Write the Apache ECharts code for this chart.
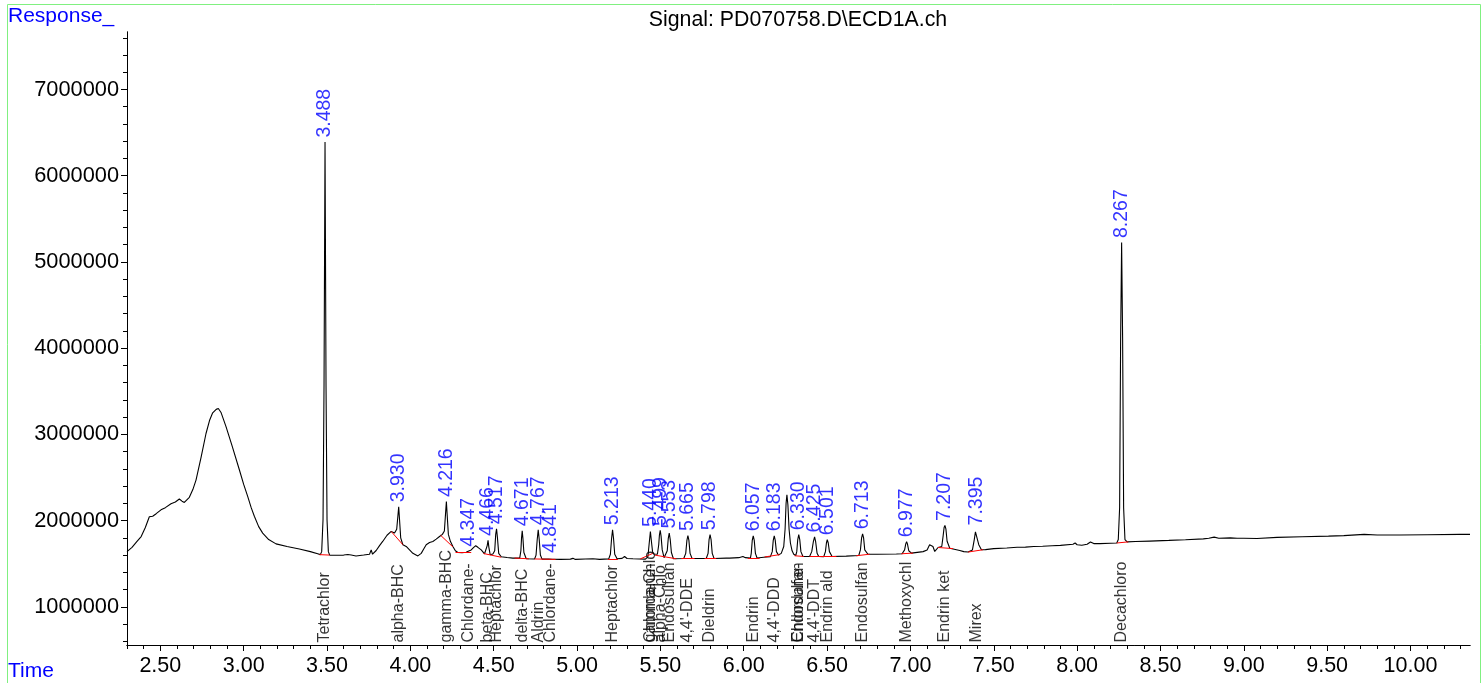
<!DOCTYPE html>
<html><head><meta charset="utf-8">
<script src="https://cdn.jsdelivr.net/npm/echarts@6/dist/echarts.min.js"></script>
<style>html,body{margin:0;padding:0;background:#fff}#c{width:1482px;height:683px}</style>
</head><body><div id="c"></div>
<script>
// ---------- DATA ----------
const signalTitle = 'Signal: PD070758.D\\ECD1A.ch';
const yAxisTitle = 'Response_';
const xAxisTitle = 'Time';

// chromatogram trace: [time (min), response]
const trace = [
[2.300,1640000],[2.330,1690000],[2.360,1760000],[2.385,1815000],[2.410,1920000],[2.434,2045000],[2.454,2050000],[2.475,2080000],[2.504,2125000],[2.530,2150000],[2.564,2195000],[2.590,2215000],[2.614,2250000],[2.630,2225000],[2.644,2210000],[2.674,2270000],[2.695,2360000],[2.714,2470000],[2.745,2740000],[2.774,3010000],[2.795,3160000],[2.814,3250000],[2.835,3290000],[2.848,3300000],[2.865,3250000],[2.894,3090000],[2.930,2870000],[2.974,2590000],[3.000,2420000],[3.024,2280000],[3.045,2150000],[3.064,2050000],[3.090,1930000],[3.114,1855000],[3.150,1780000],[3.194,1730000],[3.260,1700000],[3.334,1670000],[3.400,1640000],[3.444,1615000],
[3.460,1605000],[3.468,1640000],[3.476,2010000],[3.482,3560000],[3.488,6390000],[3.494,3560000],[3.500,2010000],[3.508,1640000],[3.516,1600000],
[3.560,1598000],[3.600,1600000],[3.625,1606000],[3.634,1618000],[3.645,1600000],[3.674,1590000],[3.720,1600000],[3.755,1610000],[3.765,1660000],[3.773,1610000],[3.795,1653000],[3.815,1710000],[3.834,1758000],[3.860,1830000],[3.885,1874000],[3.905,1855000],[3.918,1900000],[3.925,2050000],[3.930,2160000],[3.935,2010000],[3.942,1800000],[3.955,1720000],[3.975,1700000],[3.995,1660000],[4.015,1620000],[4.045,1590000],[4.065,1620000],[4.080,1670000],[4.095,1720000],[4.115,1745000],[4.135,1758000],[4.155,1785000],[4.175,1816000],[4.192,1840000],[4.204,1880000],[4.211,2080000],[4.216,2220000],[4.221,2060000],[4.228,1840000],[4.240,1760000],[4.255,1700000],[4.270,1650000],[4.285,1630000],[4.310,1628000],[4.335,1632000],[4.347,1645000],[4.365,1660000],[4.380,1690000],[4.392,1708000],[4.405,1690000],[4.425,1660000],[4.445,1615000],[4.456,1625000],[4.461,1710000],[4.466,1770000],[4.471,1690000],[4.479,1603000],[4.495,1612000],[4.506,1650000],[4.512,1840000],[4.517,1905000],[4.522,1810000],[4.530,1620000],[4.545,1580000],[4.580,1572000],[4.615,1565000],[4.656,1565000],[4.663,1650000],[4.667,1800000],[4.671,1882000],[4.675,1800000],[4.681,1630000],[4.695,1557000],[4.745,1555000],[4.754,1600000],[4.761,1780000],[4.767,1894000],[4.773,1780000],[4.780,1600000],[4.790,1553000],[4.830,1553000],[4.841,1572000],[4.852,1552000],[4.900,1550000],[4.960,1553000],[4.975,1562000],[4.990,1550000],[5.050,1555000],[5.095,1557000],[5.135,1550000],
[5.190,1556000],[5.200,1610000],[5.207,1790000],[5.213,1894000],[5.219,1790000],[5.226,1610000],[5.240,1557000],[5.270,1562000],[5.285,1584000],[5.300,1560000],[5.335,1557000],[5.410,1553000],[5.425,1580000],[5.432,1720000],[5.440,1874000],[5.446,1760000],[5.453,1640000],[5.459,1612000],[5.470,1600000],[5.482,1610000],[5.490,1720000],[5.494,1830000],[5.499,1886000],[5.504,1820000],[5.511,1660000],[5.522,1570000],[5.532,1568000],[5.541,1650000],[5.547,1790000],[5.553,1855000],[5.559,1780000],[5.566,1630000],[5.578,1557000],[5.640,1560000],[5.652,1620000],[5.659,1770000],[5.665,1827000],[5.671,1770000],[5.678,1620000],[5.690,1560000],[5.775,1560000],[5.786,1620000],[5.792,1780000],[5.798,1836000],[5.804,1780000],[5.811,1620000],[5.822,1560000],[5.895,1565000],[5.905,1575000],[5.915,1565000],[5.970,1570000],[5.995,1584000],[6.010,1570000],[6.040,1565000],[6.045,1620000],[6.051,1770000],[6.057,1824000],[6.063,1770000],[6.070,1620000],[6.080,1566000],[6.120,1575000],[6.160,1582000],[6.171,1640000],[6.177,1770000],[6.183,1824000],[6.189,1770000],[6.196,1640000],[6.208,1600000],[6.225,1620000],[6.240,1700000],[6.248,1900000],[6.254,2200000],[6.259,2300000],[6.265,2180000],[6.272,1900000],[6.280,1740000],[6.290,1650000],[6.300,1610000],[6.312,1595000],[6.318,1640000],[6.324,1780000],[6.330,1836000],[6.336,1780000],[6.343,1640000],[6.355,1584000],[6.395,1584000],[6.408,1640000],[6.418,1760000],[6.425,1810000],[6.431,1760000],[6.440,1620000],[6.450,1584000],[6.480,1582000],[6.490,1640000],[6.496,1740000],[6.501,1778000],[6.507,1740000],[6.514,1640000],[6.530,1584000],[6.615,1588000],[6.690,1595000],[6.700,1660000],[6.707,1800000],[6.713,1847000],[6.719,1800000],[6.726,1660000],[6.745,1610000],[6.800,1610000],[6.916,1612000],[6.950,1615000],[6.965,1660000],[6.972,1730000],[6.977,1755000],[6.982,1730000],[6.990,1650000],[7.006,1623000],[7.076,1640000],[7.100,1660000],[7.115,1720000],[7.125,1740000],[7.135,1700000],[7.146,1642000],[7.166,1688000],[7.188,1700000],[7.196,1820000],[7.202,1920000],[7.207,1944000],[7.213,1900000],[7.220,1760000],[7.236,1680000],[7.296,1653000],[7.320,1640000],[7.346,1635000],[7.372,1660000],[7.383,1780000],[7.390,1870000],[7.395,1892000],[7.401,1850000],[7.410,1720000],[7.426,1662000],[7.450,1663000],[7.500,1675000],[7.578,1682000],[7.640,1690000],[7.690,1692000],[7.740,1700000],[7.793,1702000],[7.850,1709000],[7.900,1712000],[7.975,1725000],[7.988,1740000],[8.000,1720000],[8.028,1714000],[8.060,1725000],[8.080,1752000],[8.100,1733000],[8.136,1733000],[8.200,1738000],[8.238,1740000],
[8.247,1780000],[8.255,2150000],[8.261,4100000],[8.267,5225000],[8.273,4100000],[8.279,2150000],[8.287,1780000],[8.300,1753000],
[8.350,1757000],[8.436,1762000],[8.550,1770000],[8.650,1778000],[8.757,1788000],[8.790,1795000],[8.822,1808000],[8.850,1795000],[8.919,1800000],[8.960,1795000],[9.000,1795000],[9.079,1792000],[9.200,1805000],[9.350,1812000],[9.508,1820000],[9.600,1826000],[9.722,1840000],[9.800,1832000],[9.937,1832000],[10.100,1836000],[10.297,1840000],[10.357,1840000]
];

// integrated peaks: retention time and apex response
const peakRT   = [3.488,3.930,4.216,4.347,4.466,4.517,4.671,4.767,4.841,5.213,5.440,5.499,5.553,5.665,5.798,6.057,6.183,6.330,6.425,6.501,6.713,6.977,7.207,7.395,8.267];
const peakApex = [6390000,2160000,2220000,1645000,1770000,1905000,1882000,1894000,1572000,1894000,1874000,1886000,1855000,1827000,1836000,1824000,1824000,1836000,1810000,1778000,1847000,1755000,1944000,1892000,5225000];

// compound names printed at their expected retention times
const compoundRT   = [3.488,3.930,4.216,4.347,4.466,4.517,4.671,4.767,4.841,5.213,5.440,5.440,5.499,5.553,5.665,5.798,6.057,6.183,6.330,6.330,6.425,6.501,6.713,6.977,7.207,7.395,8.267];
const compoundName = ['Tetrachlor','alpha-BHC','gamma-BHC','Chlordane-','beta-BHC','Heptachlor','delta-BHC','Aldrin','Chlordane-','Heptachlor','Chlordane-','gamma-Chlo','alpha-Chlo','Endosulfan','4,4\'-DDE','Dieldrin','Endrin','4,4\'-DDD','Chlordane-','Endosulfan','4,4\'-DDT','Endrin ald','Endosulfan','Methoxychl','Endrin ket','Mirex','Decachloro'];

// integration baselines (red)
const baseStartT = [3.455,3.885,4.181,4.271,4.439,4.625,4.745,5.185,5.380,5.465,5.625,5.765,6.025,6.125,6.305,6.395,6.675,6.946,7.166,7.346,8.238];
const baseStartV = [1605000,1874000,1830000,1630000,1618000,1565000,1555000,1557000,1556000,1600000,1560000,1560000,1565000,1578000,1592000,1584000,1592000,1615000,1688000,1635000,1740000];
const baseEndT   = [3.515,3.955,4.255,4.365,4.545,4.711,4.871,5.245,5.455,5.595,5.705,5.835,6.095,6.215,6.360,6.556,6.755,7.016,7.256,7.436,8.307];
const baseEndV   = [1600000,1720000,1695000,1630000,1575000,1557000,1550000,1557000,1620000,1557000,1560000,1560000,1566000,1605000,1584000,1586000,1610000,1623000,1675000,1662000,1753000];

// axis ticks
const xTickLabels = [2.5,3.0,3.5,4.0,4.5,5.0,5.5,6.0,6.5,7.0,7.5,8.0,8.5,9.0,9.5,10.0];
const yTickLabels = [1000000,2000000,3000000,4000000,5000000,6000000,7000000];
const xMin = 2.3, xMax = 10.357, yMin = 557000, yMax = 7667000;

// ---------- CHART ----------
const FONT = '"Liberation Sans", Arial, sans-serif';
const xMinor = []; for (let k = 23; k <= 103; k++) xMinor.push(k / 10);
const yMinor = []; for (let k = 3; k <= 38; k++) yMinor.push(k * 200000);

const chart = echarts.init(document.getElementById('c'), null, {renderer: 'canvas'});
const baseAxisX = {type: 'value', min: xMin, max: xMax, position: 'bottom', splitLine: {show: false},
  axisLine: {lineStyle: {color: '#000', width: 1}}};
const baseAxisY = {type: 'value', min: yMin, max: yMax, position: 'left', splitLine: {show: false},
  axisLine: {lineStyle: {color: '#000', width: 1}}};

const option = {
  animation: false,
  backgroundColor: '#fff',
  grid: {left: 127, right: 12, top: 32, bottom: 38, containLabel: false},
  xAxis: [
    Object.assign({}, baseAxisX, {
      axisTick: {show: true, customValues: xTickLabels, length: 6, lineStyle: {color: '#000'}},
      axisLabel: {show: true, customValues: xTickLabels, formatter: v => Number(v).toFixed(2),
        color: '#000', fontSize: 21.5, fontFamily: FONT, margin: 10}
    }),
    Object.assign({}, baseAxisX, {
      axisTick: {show: true, customValues: xMinor, length: 4, lineStyle: {color: '#000'}},
      axisLabel: {show: false}
    })
  ],
  yAxis: [
    Object.assign({}, baseAxisY, {
      axisTick: {show: true, customValues: yTickLabels, length: 6, lineStyle: {color: '#000'}},
      axisLabel: {show: true, customValues: yTickLabels, formatter: v => String(v),
        color: '#000', fontSize: 21.8, fontFamily: FONT, margin: 8}
    }),
    Object.assign({}, baseAxisY, {
      axisTick: {show: true, customValues: yMinor, length: 4, lineStyle: {color: '#000'}},
      axisLabel: {show: false}
    })
  ],
  series: [
    {
      type: 'line', name: 'signal', data: trace, showSymbol: false, symbol: 'none',
      lineStyle: {color: '#000', width: 1.1}, smooth: false, z: 3, silent: true
    },
    {
      type: 'lines', coordinateSystem: 'cartesian2d', silent: true, z: 4,
      lineStyle: {color: '#ff0000', width: 1, opacity: 1},
      data: baseStartT.map((t, i) => ({coords: [[t, baseStartV[i]], [baseEndT[i], baseEndV[i]]]}))
    },
    {
      type: 'scatter', name: 'rt', silent: true, z: 5, symbolSize: 1,
      itemStyle: {color: 'rgba(0,0,0,0)'},
      data: peakRT.map((t, i) => [t, peakApex[i]]),
      label: {show: true, position: 'top', distance: 4, rotate: 90, align: 'left', verticalAlign: 'middle',
        color: '#0000ff', fontSize: 19.5, fontFamily: FONT,
        formatter: p => p.value[0].toFixed(3)}
    },
    {
      type: 'scatter', name: 'names', silent: true, z: 5, symbolSize: 1, clip: false,
      itemStyle: {color: 'rgba(0,0,0,0)'},
      data: compoundRT.map((t, i) => ({value: [t, yMin], name: compoundName[i]})),
      label: {show: true, position: 'top', distance: 2, rotate: 90, align: 'left', verticalAlign: 'middle',
        color: '#000', fontSize: 16, fontFamily: FONT, formatter: p => p.name}
    }
  ],
  graphic: [
    {type: 'rect', silent: true, z: 0, shape: {x: 7.5, y: 4.5, width: 1473, height: 720},
      style: {fill: 'none', stroke: '#80f080', lineWidth: 1}},
    {type: 'text', silent: true, x: 8, y: 16, style: {text: yAxisTitle, fill: '#0000ff', font: '21px ' + FONT,
      textAlign: 'left', textVerticalAlign: 'middle'}},
    {type: 'text', silent: true, x: 8, y: 671, style: {text: xAxisTitle, fill: '#0000ff', font: '21px ' + FONT,
      textAlign: 'left', textVerticalAlign: 'middle'}},
    {type: 'text', silent: true, x: 798, y: 20, style: {text: signalTitle, fill: '#000', font: '21.3px ' + FONT,
      textAlign: 'center', textVerticalAlign: 'middle'}}
  ]
};
chart.setOption(option);
</script>
</body></html>
